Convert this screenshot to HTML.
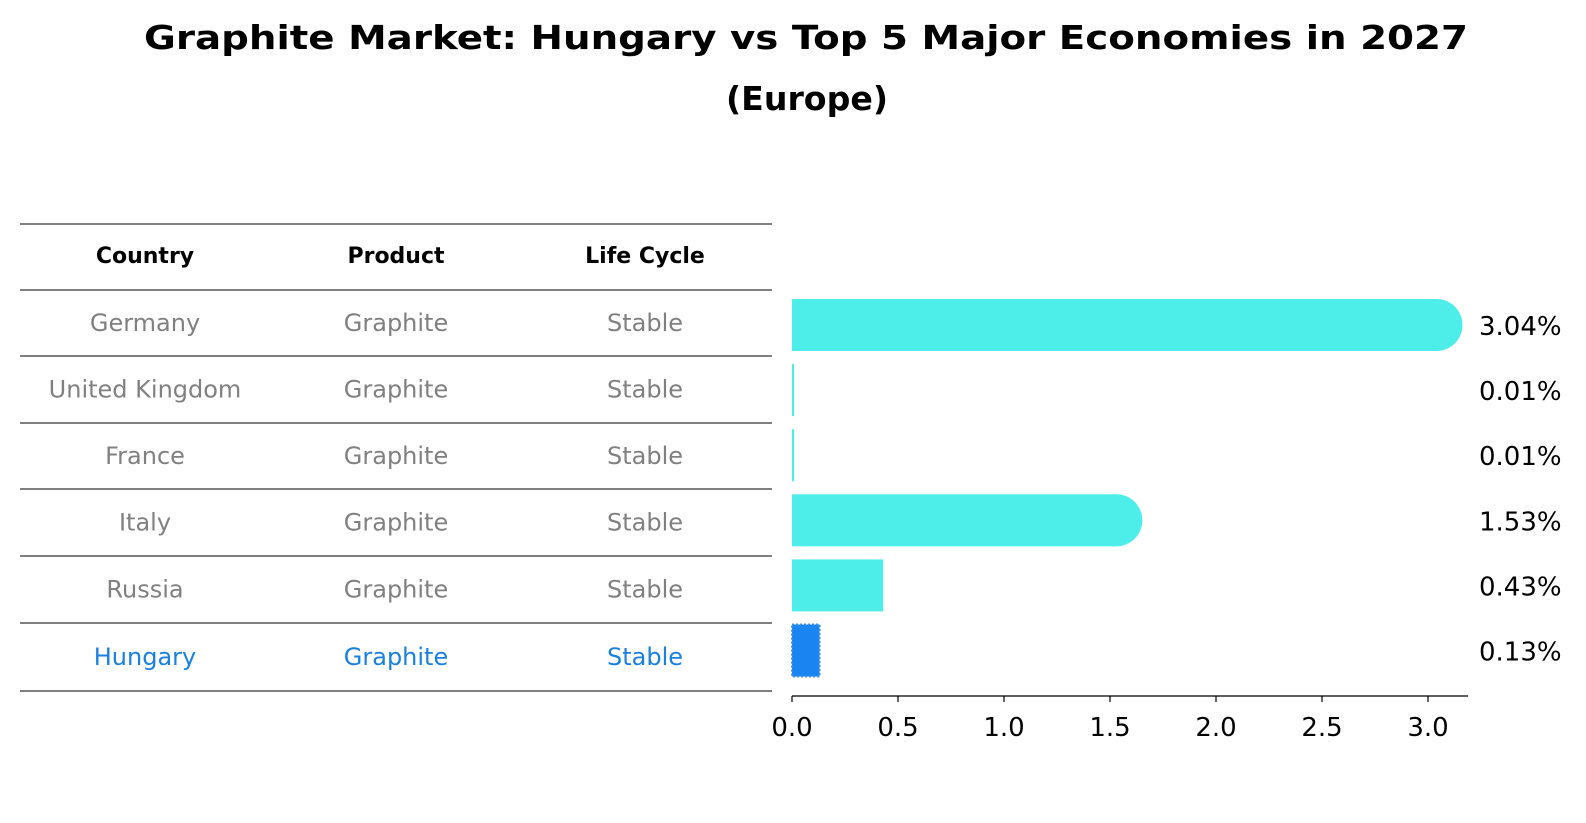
<!DOCTYPE html>
<html><head><meta charset="utf-8"><style>
body{margin:0;background:#fff}
svg{display:block;font-family:"DejaVu Sans","Liberation Sans",sans-serif}
</style></head><body>
<svg width="1586" height="823" viewBox="0 0 1586 823">
<text x="806" y="49" text-anchor="middle" font-size="33" font-weight="bold" textLength="1324" lengthAdjust="spacingAndGlyphs">Graphite Market: Hungary vs Top 5 Major Economies in 2027</text>
<text x="807" y="110" text-anchor="middle" font-size="33" font-weight="bold" textLength="162" lengthAdjust="spacingAndGlyphs">(Europe)</text>
<g id="table"></g>
<g id="bars"></g>
<g id="axis"></g>
</svg>
<script>
const countries=["Germany","United Kingdom","France","Italy","Russia","Hungary"];
const products=["Graphite","Graphite","Graphite","Graphite","Graphite","Graphite"];
const lifecycle=["Stable","Stable","Stable","Stable","Stable","Stable"];
const values=[3.04,0.01,0.01,1.53,0.43,0.13];
const valueLabels=["3.04%","0.01%","0.01%","1.53%","0.43%","0.13%"];
const ticks=[0,0.5,1.0,1.5,2.0,2.5,3.0];
const tickLabels=["0.0","0.5","1.0","1.5","2.0","2.5","3.0"];

const NS="http://www.w3.org/2000/svg";
function mk(tag,attrs,parent){const e=document.createElementNS(NS,tag);for(const k in attrs)e.setAttribute(k,attrs[k]);parent.appendChild(e);return e;}
const x0=792,ppu=212;
function xs(v){return x0+v*ppu;}
function yc(i){return 325+i*65.1;}

const tbl=document.getElementById('table');
const lines=[224,290,356,423,489,556,623,691];
lines.forEach(function(y){
 const l=mk('line',{x1:20,x2:772,y1:y,y2:y,stroke:'#000','stroke-width':1},tbl);
 
 
});
const colX=[145,396,645];
const heads=["Country","Product","Life Cycle"];
heads.forEach(function(h,j){
 const t=mk('text',{x:colX[j],y:263,'text-anchor':'middle','font-size':22,'font-weight':'bold'},tbl);
 t.textContent=h;
 
 
});
countries.forEach(function(c,i){
 const col=(i===countries.length-1)?'#1a80e0':'#808080';
 const cy=(lines[i+1]+lines[i+2])/2+8;
 [c,products[i],lifecycle[i]].forEach(function(v,j){
  const t=mk('text',{x:colX[j],y:cy,'text-anchor':'middle','font-size':24,fill:col},tbl);
  t.textContent=v;
  
  
 });
});

const bars=document.getElementById('bars');
const bh=52;
values.forEach(function(v,i){
 const y=yc(i)-bh/2;
 const w=Math.max(xs(v)-x0,1.5);
 const isH=(i===values.length-1);
 const r=mk('rect',{x:x0,y:y,width:w,height:bh,fill:isH?'#1a85f0':'#4deeea'},bars);
 if(isH){r.setAttribute('stroke','#3b8fe8');r.setAttribute('stroke-width','2');r.setAttribute('stroke-dasharray','2 2');}
 
 
 if(v>1){
  const c=mk('circle',{cx:xs(v),cy:yc(i),r:bh/2,fill:'#4deeea'},bars);
  
  
 }
 const t=mk('text',{x:1479,y:yc(i)+10,'font-size':26},bars);
 t.textContent=valueLabels[i];
 
 
});

const ax=document.getElementById('axis');
const al=mk('line',{x1:x0,x2:1468,y1:696,y2:696,stroke:'#000','stroke-width':1.3},ax);


ticks.forEach(function(v,i){
 const tk=mk('line',{x1:xs(v),x2:xs(v),y1:696,y2:702,stroke:'#000','stroke-width':1.2},ax);
 
 
 const t=mk('text',{x:xs(v),y:736,'text-anchor':'middle','font-size':26},ax);
 t.textContent=tickLabels[i];
 
 
});
</script>
</body></html>
